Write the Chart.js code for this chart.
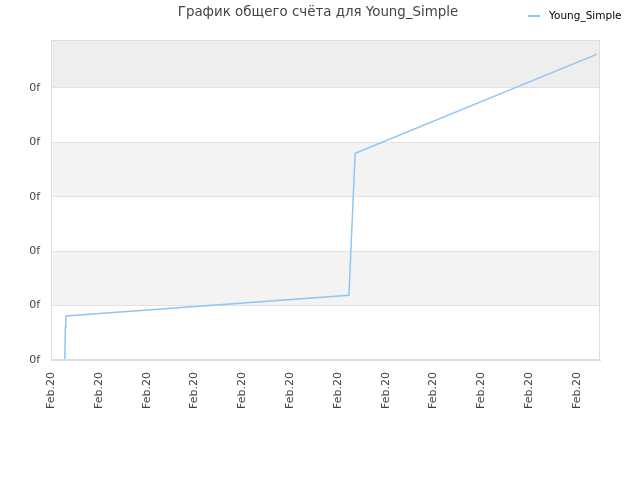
<!DOCTYPE html>
<html>
<head>
<meta charset="utf-8">
<script src="https://cdn.jsdelivr.net/npm/chart.js@4/dist/chart.umd.min.js"></script>
<style>
  html, body { margin: 0; padding: 0; background: #fff; }
  #wrap { width: 640px; height: 480px; }
</style>
</head>
<body>
<div id="wrap"><canvas id="scoreChart" width="640" height="480"></canvas></div>
<script>
// data
var seriesName = 'Young_Simple';
var chartTitle = 'График общего счёта для Young_Simple';
var times = [0.29, 0.30, 0.31, 6.23, 6.36, 11.42];
var scores = [0.00, 0.60, 0.81, 1.19, 3.80, 5.62];
var xTickLabels = ['Feb.20', 'Feb.20', 'Feb.20', 'Feb.20', 'Feb.20', 'Feb.20',
                   'Feb.20', 'Feb.20', 'Feb.20', 'Feb.20', 'Feb.20', 'Feb.20'];
var yTickLabels = ['0f', '0f', '0f', '0f', '0f', '0f'];

var lineColor = '#92c5f5';
var points = times.map(function (t, i) { return { x: t, y: scores[i] }; });

// alternating bands behind the plot (drawn before grid)
var bandsPlugin = {
    id: 'bands',
    beforeDraw: function (chart) {
        var ctx = chart.ctx, area = chart.chartArea, y = chart.scales.y;
        ctx.save();
        var edges = [0, 1, 2, 3, 4, 5, y.max];
        for (var i = 0; i < edges.length - 1; i++) {
            if (i % 2 === 0) continue;
            var top = y.getPixelForValue(edges[i + 1]);
            var bot = y.getPixelForValue(edges[i]);
            ctx.fillStyle = (i === edges.length - 2) ? '#eeeeee' : '#f3f3f3';
            ctx.fillRect(area.left, top, area.right - area.left, bot - top);
        }
        ctx.restore();
    }
};

// title, legend and frame
var headerPlugin = {
    id: 'header',
    afterDraw: function (chart) {
        var ctx = chart.ctx, a = chart.chartArea;
        ctx.save();
        ctx.strokeStyle = '#dddddd';
        ctx.lineWidth = 1;
        ctx.strokeRect(a.left + 0.5, a.top + 0.5, a.right - a.left - 1, a.bottom - a.top - 1);
        ctx.font = '13.4px "DejaVu Sans"';
        ctx.fillStyle = '#444';
        ctx.textAlign = 'center';
        ctx.textBaseline = 'middle';
        ctx.fillText(chartTitle, 318, 13);
        ctx.strokeStyle = lineColor;
        ctx.lineWidth = 2;
        ctx.beginPath();
        ctx.moveTo(528, 16);
        ctx.lineTo(540, 16);
        ctx.stroke();
        ctx.font = '10.5px "DejaVu Sans"';
        ctx.fillStyle = '#000';
        ctx.textAlign = 'left';
        ctx.fillText(seriesName, 549, 16);
        ctx.restore();
    }
};

var ctx = document.getElementById('scoreChart').getContext('2d');
var scoreChart = new Chart(ctx, {
    type: 'line',
    data: {
        datasets: [{
            label: seriesName,
            data: points,
            borderColor: lineColor,
            borderWidth: 1.5,
            pointRadius: 0,
            fill: false,
            tension: 0
        }]
    },
    options: {
        responsive: false,
        animation: false,
        layout: { padding: { left: 0, right: 40, top: 40, bottom: 60 } },
        plugins: {
            legend: { display: false },
            title: { display: false },
            tooltip: { enabled: false }
        },
        scales: {
            x: {
                type: 'linear',
                min: 0,
                max: 11.48,
                afterBuildTicks: function (scale) {
                    scale.ticks = xTickLabels.map(function (l, i) { return { value: i }; });
                },
                afterFit: function (scale) { scale.height = 60; },
                ticks: {
                    minRotation: 90,
                    maxRotation: 90,
                    padding: 12,
                    color: '#444',
                    font: { family: 'DejaVu Sans', size: 11 },
                    callback: function (v, i) { return xTickLabels[i]; }
                },
                grid: { display: false, drawTicks: false },
                border: { color: '#dddddd' }
            },
            y: {
                min: 0,
                max: 5.88,
                afterBuildTicks: function (scale) {
                    scale.ticks = yTickLabels.map(function (l, i) { return { value: i }; });
                },
                afterFit: function (scale) { scale.width = 51; },
                ticks: {
                    padding: 11,
                    color: '#444',
                    font: { family: 'DejaVu Sans', size: 11 },
                    callback: function (v, i) { return yTickLabels[i]; }
                },
                grid: { color: '#e2e2e2', drawTicks: false },
                border: { color: '#dddddd' }
            }
        }
    },
    plugins: [bandsPlugin, headerPlugin]
});
</script>
</body>
</html>
